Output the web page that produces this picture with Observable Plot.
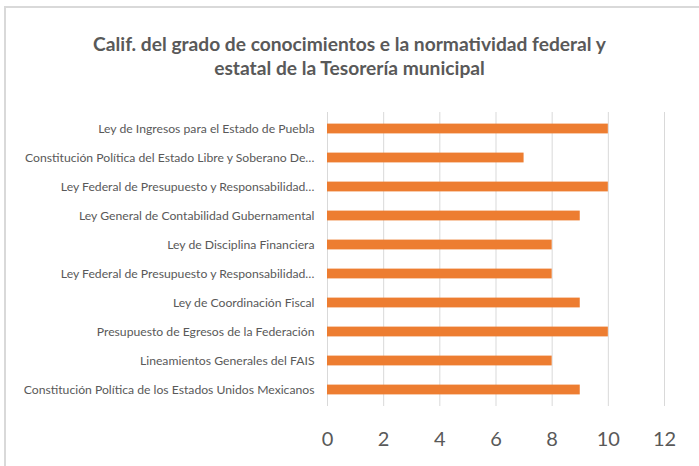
<!DOCTYPE html>
<html><head><meta charset="utf-8">
<script src="https://cdn.jsdelivr.net/npm/d3@7"></script>
<script src="https://cdn.jsdelivr.net/npm/@observablehq/plot@0.6"></script>
<style>
body{margin:0;background:#fff;font-family:Lato,"Open Sans",sans-serif;}
#wrap{position:relative;width:699px;height:466px;overflow:hidden;}
#frame{position:absolute;left:4px;top:6px;width:800px;height:600px;border:2px solid #d9d9d9;}
#title{position:absolute;left:0;top:32px;width:699px;text-align:center;font-weight:bold;font-size:19.2px;line-height:24px;color:#595959;}
#chart{position:absolute;left:0;top:90px;}
</style></head>
<body>
<div id="wrap"><div id="frame"></div>
<div id="title">Calif. del grado de conocimientos e la normatividad federal y<br>estatal de la Tesorería municipal</div>
<div id="chart"></div></div>
<script>
const categories = [
  "Ley de Ingresos para el Estado de Puebla",
  "Constitución Política del Estado Libre y Soberano De…",
  "Ley Federal de Presupuesto y Responsabilidad…",
  "Ley General de Contabilidad Gubernamental",
  "Ley de Disciplina Financiera",
  "Ley Federal de Presupuesto y Responsabilidad… ",
  "Ley de Coordinación Fiscal",
  "Presupuesto de Egresos de la Federación",
  "Lineamientos Generales del FAIS",
  "Constitución Política de los Estados Unidos Mexicanos"
];
const values = [10, 7, 10, 9, 8, 8, 9, 10, 8, 9];
const xTicks = [0, 2, 4, 6, 8, 10, 12];
const data = categories.map((c, i) => ({cat: c, v: values[i]}));

const plot = Plot.plot({
  width: 699, height: 370,
  marginLeft: 327, marginRight: 35, marginTop: 22, marginBottom: 54,
  style: {fontFamily: "Lato, sans-serif", color: "#595959", background: "transparent"},
  x: {domain: [0, 12], ticks: xTicks},
  y: {domain: categories, padding: 0},
  marks: [
    Plot.ruleX(xTicks, {stroke: "#d9d9d9", strokeWidth: 1}),
    Plot.barX(data, {x: "v", y: "cat", fill: "#ED7D31", insetTop: 9.6, insetBottom: 9.6}),
    Plot.axisX({ticks: xTicks, tickSize: 0, tickPadding: 25, fontSize: 20, label: null, fill: "#595959"}),
    Plot.axisY({tickSize: 0, tickPadding: 13, fontSize: 12.2, label: null, fill: "#595959", tickFormat: d => d.trim()})
  ]
});
document.getElementById("chart").appendChild(plot);
</script>
</body></html>
